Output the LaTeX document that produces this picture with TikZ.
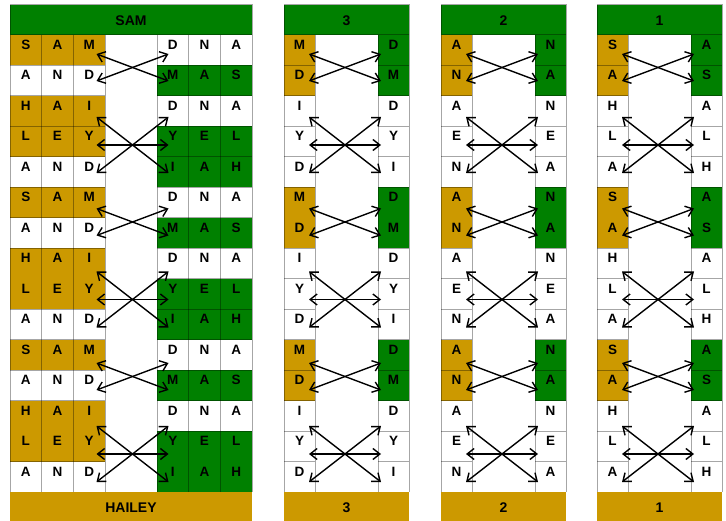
\documentclass[tikz,border=0pt]{standalone}
\usepackage{fontspec}
\setmainfont{Liberation Sans}
\usetikzlibrary{arrows.meta}
\definecolor{gold}{RGB}{204,153,0}
\definecolor{leaf}{RGB}{0,128,0}

% crossing arrows of one panel, #1 = name, #2 = middle of the gap
\newcommand\crosslinks[2]{%
  \foreach \bk in {0,1,2}{
    \pgfmathsetmacro\ya{54+154.5*\bk}
    \pgfmathsetmacro\yb{117+154.5*\bk}
    \coordinate (#1-\bk-1l) at (#2-36,\ya);
    \coordinate (#1-\bk-1r) at (#2+36,\ya);
    \coordinate (#1-\bk-2l) at (#2-36,\ya+27);
    \coordinate (#1-\bk-2r) at (#2+36,\ya+27);
    \coordinate (#1-\bk-3l) at (#2-36,\yb);
    \coordinate (#1-\bk-3r) at (#2+36,\yb);
    \coordinate (#1-\bk-4l) at (#2-36,\yb+28);
    \coordinate (#1-\bk-4r) at (#2+36,\yb+28);
    \coordinate (#1-\bk-5l) at (#2-36,\yb+56);
    \coordinate (#1-\bk-5r) at (#2+36,\yb+56);
    \draw[link] (#1-\bk-1l) -- (#1-\bk-2r);
    \draw[link] (#1-\bk-2l) -- (#1-\bk-1r);
    \draw[link] (#1-\bk-3l) -- (#1-\bk-5r);
    \draw[link] (#1-\bk-4l) -- (#1-\bk-4r);
    \draw[link] (#1-\bk-5l) -- (#1-\bk-3r);
  }}

% one-letter panel, #1 = left edge, #2 = number, #3 = rows
\newcommand\colpanel[3]{%
  \fill[leaf] (#1,5) rectangle (#1+125,35);
  \draw[rule] (#1,5) rectangle (#1+125,35);
  \fill[gold] (#1,492) rectangle (#1+125,521);
  \node[title] (top#2) at (#1+62.5,26) {#2};
  \node[title] (bot#2) at (#1+62.5,512) {#2};
  \foreach \bk in {0,1,2}
    \foreach \i/\lc/\rc in {#3}{
      \pgfmathtruncatemacro\rw{5*\bk+\i}
      \pgfmathsetmacro\rt{35+(\rw-1)*30.47}
      \ifnum\i<3 \def\fl{gold}\def\fr{leaf}\else\def\fl{white}\def\fr{white}\fi
      \fill[\fl] (#1,\rt) rectangle (#1+31,\rt+30.47);
      \fill[\fr] (#1+94,\rt) rectangle (#1+125,\rt+30.47);
      \node[letter] (p#2-\rw-l) at (#1+15.5,\rt+14.5) {\lc};
      \node[letter] (p#2-\rw-r) at (#1+109.5,\rt+14.5) {\rc};
    }
  \foreach \x in {#1,#1+31,#1+94,#1+125}
    \draw[rule] (\x,35) -- (\x,492);
  \foreach \j in {1,2,3,4,5,7,8,9,10,11,12,13,14}{
    \draw[rule] (#1,35+\j*30.47) -- ++(31,0);
    \draw[rule] (#1+94,35+\j*30.47) -- ++(31,0);
  }
  \crosslinks{p#2}{#1+61}
}

\begin{document}
\begin{tikzpicture}[x=1pt,y=-1pt,>={Straight Barb[length=7pt,width=11pt]}]
  \tikzstyle{rule}=[draw=black,draw opacity=0.35,line width=1pt]
  \tikzstyle{letter}=[font=\bfseries\fontsize{13.5}{15}\selectfont,anchor=base,inner sep=0pt]
  \tikzstyle{title}=[font=\bfseries\fontsize{14}{16}\selectfont,anchor=base,inner sep=0pt]
  \tikzstyle{link}=[<->,line width=1.4pt]
  \useasboundingbox (0,0) rectangle (726,521);

  % panel SAM / HAILEY
  \fill[leaf] (10,5) rectangle (252,35);
  \draw[rule] (10,5) rectangle (252,35);
  \fill[gold] (10,492) rectangle (252,521);
  \node[title] (sam) at (131,26) {SAM};
  \node[title] (hailey) at (131,512) {HAILEY};
  \foreach \bk in {0,1,2}
    \foreach \i/\la/\lb/\lc/\fl/\ra/\rb/\rc/\fr in {1/S/A/M/gold/D/N/A/white,
        2/A/N/D/white/M/A/S/leaf, 3/H/A/I/gold/D/N/A/white,
        4/L/E/Y/gold/Y/E/L/leaf, 5/A/N/D/white/I/A/H/leaf}{
      \pgfmathtruncatemacro\rw{5*\bk+\i}
      \pgfmathsetmacro\rt{35+(\rw-1)*30.47}
      \fill[\fl] (10,\rt) rectangle (105,\rt+30.47);
      \fill[\fr] (157,\rt) rectangle (252,\rt+30.47);
      \node[letter] (s\rw-1) at (25.8,\rt+14.5) {\la};
      \node[letter] (s\rw-2) at (57.5,\rt+14.5) {\lb};
      \node[letter] (s\rw-3) at (89.2,\rt+14.5) {\lc};
      \node[letter] (s\rw-4) at (172.8,\rt+14.5) {\ra};
      \node[letter] (s\rw-5) at (204.5,\rt+14.5) {\rb};
      \node[letter] (s\rw-6) at (236.2,\rt+14.5) {\rc};
    }
  \foreach \x in {10,41.67,73.33,105,157,188.67,220.33,252}
    \draw[rule] (\x,35) -- (\x,492);
  \foreach \j in {1,2,3,4,5,6,7,9,10,11,12,14}
    \draw[rule] (10,35+\j*30.47) -- (105,35+\j*30.47);
  \foreach \j in {1,2,3,4,5,6,7,8,9,10,11,12,13}
    \draw[rule] (157,35+\j*30.47) -- (252,35+\j*30.47);
  \crosslinks{s}{132.5}

  % panels 3, 2 and 1
  \colpanel{284}{3}{1/M/D,2/D/M,3/I/D,4/Y/Y,5/D/I}
  \colpanel{441}{2}{1/A/N,2/N/A,3/A/N,4/E/E,5/N/A}
  \colpanel{597}{1}{1/S/A,2/A/S,3/H/A,4/L/L,5/A/H}
\end{tikzpicture}
\end{document}
